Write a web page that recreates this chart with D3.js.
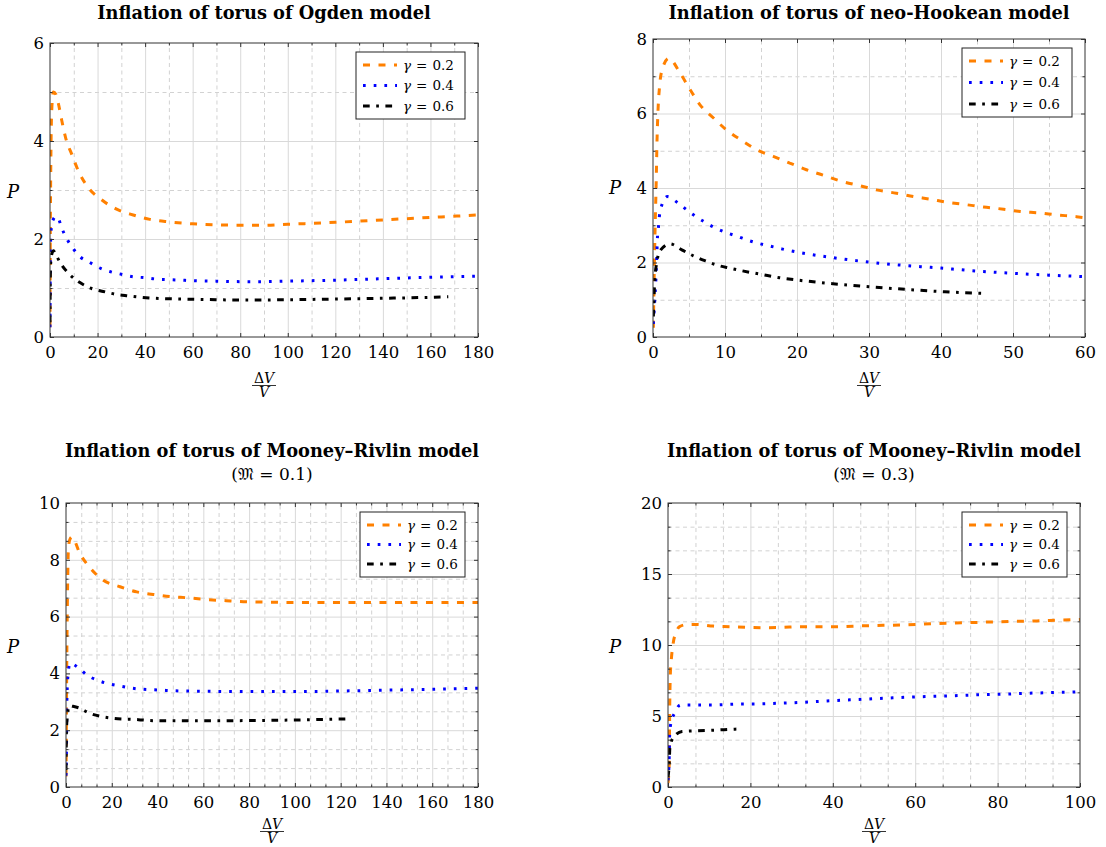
<!DOCTYPE html>
<html>
<head>
<meta charset="utf-8">
<script src="https://cdn.jsdelivr.net/npm/d3@7"></script>
<style>
body { margin: 0; background: #fff; }
svg text { font-family: "DejaVu Serif", serif; fill: #000; }
</style>
</head>
<body>
<svg id="chart" width="1106" height="847"></svg>
<script>
// series names
var gammas = ["0.2", "0.4", "0.6"];

// Ogden model, [dV/V, P]
var ogdenG02 = [[0,0.2],[0.05,1.0],[0.12,2.0],[0.25,3.0],[0.45,4.0],[0.8,4.7],[1.4,5.0],[2.5,4.95],[3.5,4.77],[4.9,4.43],[6.5,4.08],[9.3,3.71],[12.1,3.37],[16.1,3.05],[21.7,2.80],[28,2.61],[35,2.49],[42,2.40],[50,2.35],[60,2.31],[70,2.29],[80,2.28],[90,2.28],[100,2.30],[120,2.34],[140,2.39],[160,2.44],[180,2.49]];
var ogdenG04 = [[0,0.2],[0.05,0.8],[0.12,1.5],[0.25,1.95],[0.5,2.2],[1.2,2.38],[2.5,2.46],[3.5,2.42],[4.9,2.23],[7,2.01],[9.5,1.82],[12.6,1.64],[16.8,1.52],[21.3,1.40],[25.6,1.33],[30,1.28],[35,1.23],[40,1.21],[45,1.18],[50,1.17],[55,1.16],[60,1.15],[70,1.14],[80,1.13],[90,1.13],[100,1.14],[120,1.16],[140,1.19],[160,1.22],[180,1.24]];
var ogdenG06 = [[0,0.3],[0.05,0.8],[0.15,1.3],[0.35,1.55],[0.8,1.7],[1.5,1.76],[2.1,1.71],[4.9,1.47],[8.4,1.27],[12.6,1.11],[17.5,0.99],[22.4,0.93],[28,0.87],[33,0.84],[38.5,0.81],[44,0.79],[50,0.78],[55,0.775],[65,0.765],[80,0.755],[100,0.76],[120,0.775],[140,0.79],[160,0.81],[167.5,0.82]];

// neo-Hookean model
var neoG02 = [[0.05,0.25],[0.15,1.5],[0.3,3.0],[0.45,4.2],[0.55,5.2],[0.7,6.1],[0.9,6.7],[1.2,7.13],[2.2,7.48],[3.75,7.09],[5.1,6.66],[6.5,6.24],[8.4,5.88],[10.2,5.56],[12.3,5.28],[14.4,5.03],[16.7,4.85],[19,4.67],[21.3,4.49],[23.7,4.34],[26,4.19],[28.75,4.06],[31,3.95],[33.8,3.86],[36.2,3.77],[38.5,3.70],[40.8,3.62],[43.6,3.55],[45.9,3.49],[48.7,3.43],[51,3.37],[53.75,3.33],[56,3.28],[58.8,3.23],[60,3.2]];
var neoG04 = [[0.05,0.35],[0.25,1.0],[0.5,2.0],[0.6,2.6],[0.74,2.9],[0.88,3.23],[1.2,3.53],[2.0,3.77],[3.4,3.61],[4.7,3.41],[6,3.23],[7.4,3.06],[8.75,2.92],[10.2,2.80],[11.75,2.70],[13.3,2.59],[14.9,2.50],[16.5,2.43],[18,2.36],[20,2.28],[25,2.13],[30,2.01],[35,1.92],[40,1.85],[45,1.77],[50,1.71],[55,1.66],[60,1.62]];
var neoG06 = [[0.05,0.55],[0.2,1.35],[0.5,1.98],[1.07,2.34],[2.36,2.50],[4,2.34],[5.6,2.18],[7.2,2.05],[8.9,1.93],[10.6,1.85],[12.3,1.78],[14.2,1.71],[15.9,1.65],[17.6,1.59],[20,1.53],[25,1.43],[30,1.35],[35,1.28],[40,1.22],[43,1.19],[46.3,1.17]];

// Mooney-Rivlin model, M = 0.1
var mr1G02 = [[0,0.37],[0.15,1.9],[0.3,4.0],[0.5,5.76],[0.7,7.05],[1.0,8.28],[1.6,8.7],[2.5,8.8],[6.2,8.2],[10.8,7.69],[16.3,7.28],[23.6,7.05],[30.9,6.87],[38.1,6.78],[46.2,6.70],[53.4,6.66],[60,6.61],[70,6.56],[80,6.52],[100,6.50],[120,6.50],[140,6.50],[160,6.50],[180,6.50]];
var mr1G04 = [[0,0.4],[0.2,1.3],[0.35,2.83],[0.6,3.6],[0.9,3.95],[1.75,4.36],[5.4,4.2],[9,3.95],[13.4,3.77],[17.8,3.65],[22.6,3.57],[27.2,3.50],[32,3.45],[36.7,3.43],[41.8,3.41],[46.6,3.39],[51.2,3.38],[60,3.37],[80,3.36],[100,3.36],[120,3.38],[140,3.41],[160,3.44],[180,3.48]];
var mr1G06 = [[0,0.6],[0.2,2.0],[0.5,2.42],[1.45,2.86],[3,2.84],[5.8,2.78],[10.2,2.60],[15.6,2.48],[20.7,2.42],[26.2,2.39],[31.6,2.37],[36.7,2.34],[42.5,2.33],[50,2.33],[60,2.33],[80,2.34],[100,2.36],[123.3,2.40]];

// Mooney-Rivlin model, M = 0.3
var mr3G02 = [[0,0.28],[0.3,1.7],[0.4,5.2],[0.55,7.78],[0.8,8.95],[1.3,10.2],[2,10.9],[2.8,11.3],[5,11.45],[7,11.45],[11,11.33],[15.1,11.29],[19.2,11.24],[23.6,11.22],[27.6,11.24],[32.1,11.29],[40.2,11.29],[48.3,11.36],[56.3,11.41],[64.4,11.5],[72.5,11.57],[80.6,11.64],[88.7,11.69],[100,11.8]];
var mr3G04 = [[0,0.47],[0.3,2.15],[0.4,3.68],[0.7,4.5],[1.6,5.2],[3,5.78],[6.2,5.78],[11,5.78],[15.9,5.83],[21.6,5.85],[27.2,5.90],[32.9,5.97],[38.6,6.06],[44.2,6.14],[50.7,6.23],[56.3,6.30],[62.8,6.37],[68.5,6.42],[74.9,6.49],[80.6,6.53],[87.1,6.60],[93.5,6.65],[100,6.70]];
var mr3G06 = [[0,0.7],[0.3,1.7],[0.45,2.74],[1.2,3.44],[3.4,3.91],[7,3.96],[11,4.0],[15.9,4.07],[16.7,4.08]];

// tick values
var ogdenXTicks = [0,20,40,60,80,100,120,140,160,180];
var ogdenYTicks = [0,2,4,6];
var neoXTicks = [0,10,20,30,40,50,60];
var neoYTicks = [0,2,4,6,8];
var mr1XTicks = [0,20,40,60,80,100,120,140,160,180];
var mr1YTicks = [0,2,4,6,8,10];
var mr3XTicks = [0,20,40,60,80,100];
var mr3YTicks = [0,5,10,15,20];

var styles = [
  {color: "#ff8000", dash: "7,8.5"},
  {color: "#0000ff", dash: "2.7,8"},
  {color: "#000000", dash: "6.7,6.5,2.7,6.5"}
];

var panels = [
  {title: ["Inflation of torus of Ogden model"], titleY: 19, series: [ogdenG02, ogdenG04, ogdenG06],
   xTicks: ogdenXTicks, yTicks: ogdenYTicks, minor: 1, fracY: 46,
   left: 50, right: 478, top: 43, bottom: 337, legend: [356, 52, 109, 67], pLabel: [13, 192]},
  {title: ["Inflation of torus of neo-Hookean model"], titleY: 19, series: [neoG02, neoG04, neoG06],
   xTicks: neoXTicks, yTicks: neoYTicks, minor: 1, fracY: 46,
   left: 653, right: 1085, top: 39, bottom: 337, legend: [962, 48, 110, 69], pLabel: [615, 188]},
  {title: ["Inflation of torus of Mooney\u2013Rivlin model", "(\uD835\uDD10 = 0.1)"], titleY: 457, series: [mr1G02, mr1G04, mr1G06],
   xTicks: mr1XTicks, yTicks: mr1YTicks, minor: 2, fracY: 42,
   left: 66, right: 478, top: 503, bottom: 787, legend: [360, 512, 105, 65], pLabel: [13, 647]},
  {title: ["Inflation of torus of Mooney\u2013Rivlin model", "(\uD835\uDD10 = 0.3)"], titleY: 457, series: [mr3G02, mr3G04, mr3G06],
   xTicks: mr3XTicks, yTicks: mr3YTicks, minor: 2, fracY: 42,
   left: 668, right: 1080, top: 503, bottom: 787, legend: [962, 512, 105, 65], pLabel: [615, 647]}
];

var svg = d3.select("#chart");

function minors(ticks, n) {
  var out = [];
  for (var i = 0; i < ticks.length - 1; i++) {
    var step = (ticks[i + 1] - ticks[i]) / (n + 1);
    for (var k = 1; k <= n; k++) out.push(ticks[i] + k * step);
  }
  return out;
}

function styleAxis(sel) {
  sel.select(".domain").remove();
  sel.attr("font-family", null).attr("font-size", 16.5);
}

function drawPanel(p, idx) {
  var g = svg.append("g");
  var xMax = p.xTicks[p.xTicks.length - 1], yMax = p.yTicks[p.yTicks.length - 1];
  var x = d3.scaleLinear().domain([0, xMax]).range([p.left, p.right]);
  var y = d3.scaleLinear().domain([0, yMax]).range([p.bottom, p.top]);
  var w = p.right - p.left, h = p.bottom - p.top;
  var mx = minors(p.xTicks, p.minor), my = minors(p.yTicks, p.minor);
  var inner = function(v, max) { return v > 0 && v < max; };

  // grid
  g.append("g").attr("transform", "translate(0," + p.bottom + ")")
    .call(d3.axisBottom(x).tickValues(mx).tickSize(-h).tickFormat(""))
    .call(styleAxis)
    .selectAll("line").attr("stroke", "#d2d2d2").attr("stroke-dasharray", "4,3.5");
  g.append("g").attr("transform", "translate(" + p.left + ",0)")
    .call(d3.axisLeft(y).tickValues(my).tickSize(-w).tickFormat(""))
    .call(styleAxis)
    .selectAll("line").attr("stroke", "#d2d2d2").attr("stroke-dasharray", "4,3.5");
  g.append("g").attr("transform", "translate(0," + p.bottom + ")")
    .call(d3.axisBottom(x).tickValues(p.xTicks.filter(function(v) { return inner(v, xMax); })).tickSize(-h).tickFormat(""))
    .call(styleAxis)
    .selectAll("line").attr("stroke", "#d9d9d9");
  g.append("g").attr("transform", "translate(" + p.left + ",0)")
    .call(d3.axisLeft(y).tickValues(p.yTicks.filter(function(v) { return inner(v, yMax); })).tickSize(-w).tickFormat(""))
    .call(styleAxis)
    .selectAll("line").attr("stroke", "#d9d9d9");

  // curves
  var clipId = "clip" + idx;
  g.append("clipPath").attr("id", clipId).append("rect")
    .attr("x", p.left).attr("y", p.top).attr("width", w).attr("height", h);
  var line = d3.line().x(function(d) { return x(d[0]); }).y(function(d) { return y(d[1]); })
    .curve(d3.curveMonotoneX);
  g.append("g").attr("clip-path", "url(#" + clipId + ")")
    .selectAll("path").data(p.series).join("path")
    .attr("d", line)
    .attr("fill", "none")
    .attr("stroke", function(d, i) { return styles[i].color; })
    .attr("stroke-width", 3)
    .attr("stroke-dasharray", function(d, i) { return styles[i].dash; });

  // frame
  g.append("rect").attr("x", p.left).attr("y", p.top).attr("width", w).attr("height", h)
    .attr("fill", "none").attr("stroke", "#333").attr("stroke-width", 1);

  // ticks on all sides
  var tickCol = "#333";
  g.append("g").attr("transform", "translate(0," + p.bottom + ")")
    .call(d3.axisBottom(x).tickValues(p.xTicks).tickSize(-4).tickPadding(9).tickFormat(d3.format("d")))
    .call(styleAxis)
    .call(function(s) { s.selectAll("line").attr("stroke", tickCol); s.selectAll("text").attr("fill", "#111"); });
  g.append("g").attr("transform", "translate(" + p.left + ",0)")
    .call(d3.axisLeft(y).tickValues(p.yTicks).tickSize(-4).tickPadding(6).tickFormat(d3.format("d")))
    .call(styleAxis)
    .call(function(s) { s.selectAll("line").attr("stroke", tickCol); s.selectAll("text").attr("fill", "#111"); });
  g.append("g").attr("transform", "translate(0," + p.top + ")")
    .call(d3.axisTop(x).tickValues(p.xTicks).tickSize(-4).tickFormat(""))
    .call(styleAxis).selectAll("line").attr("stroke", tickCol);
  g.append("g").attr("transform", "translate(" + p.right + ",0)")
    .call(d3.axisRight(y).tickValues(p.yTicks).tickSize(-4).tickFormat(""))
    .call(styleAxis).selectAll("line").attr("stroke", tickCol);
  [[d3.axisBottom(x).tickValues(mx), "translate(0," + p.bottom + ")"],
   [d3.axisTop(x).tickValues(mx), "translate(0," + p.top + ")"],
   [d3.axisLeft(y).tickValues(my), "translate(" + p.left + ",0)"],
   [d3.axisRight(y).tickValues(my), "translate(" + p.right + ",0)"]].forEach(function(a) {
    g.append("g").attr("transform", a[1])
      .call(a[0].tickSize(-2.5).tickFormat(""))
      .call(styleAxis).selectAll("line").attr("stroke", tickCol);
  });

  // titles
  var cx = (p.left + p.right) / 2;
  g.append("text").attr("x", cx).attr("y", p.titleY)
    .attr("text-anchor", "middle").attr("font-weight", "bold").attr("font-size", 17.8)
    .text(p.title[0]);
  if (p.title.length > 1) {
    g.append("text").attr("x", cx).attr("y", p.titleY + 23)
      .attr("text-anchor", "middle").attr("font-size", 17)
      .text(p.title[1]);
  }

  // axis labels
  g.append("text").attr("x", p.pLabel[0]).attr("y", p.pLabel[1] + 6)
    .attr("text-anchor", "middle").attr("font-style", "italic").attr("font-size", 18).text("P");
  var xl = g.append("g").attr("transform", "translate(" + cx + "," + p.bottom + ")");
  xl.append("text").attr("y", p.fracY).attr("text-anchor", "middle").attr("font-size", 14)
    .call(function(t) {
      t.append("tspan").text("\u0394");
      t.append("tspan").attr("font-style", "italic").text("V");
    });
  xl.append("line").attr("x1", -12).attr("x2", 12).attr("y1", p.fracY + 2.5).attr("y2", p.fracY + 2.5)
    .attr("stroke", "#000").attr("stroke-width", 0.8);
  xl.append("text").attr("y", p.fracY + 13.5).attr("text-anchor", "middle").attr("font-size", 14)
    .attr("font-style", "italic").text("V");

  // legend
  var lg = g.append("g").attr("transform", "translate(" + p.legend[0] + "," + p.legend[1] + ")");
  lg.append("rect").attr("width", p.legend[2]).attr("height", p.legend[3])
    .attr("fill", "#fff").attr("stroke", "#222").attr("stroke-width", 1);
  var rowH = (p.legend[3] - 26) / 2;
  gammas.forEach(function(gm, i) {
    var ry = 13 + i * rowH;
    lg.append("line").attr("x1", 7).attr("x2", 41).attr("y1", ry).attr("y2", ry)
      .attr("stroke", styles[i].color).attr("stroke-width", 3)
      .attr("stroke-dasharray", styles[i].dash);
    var t = lg.append("text").attr("x", 47).attr("y", ry + 4.5).attr("font-size", 13.5);
    t.append("tspan").attr("font-style", "italic").text("\u03B3");
    t.append("tspan").attr("dx", 5).text("=");
    t.append("tspan").attr("dx", 5).text(gm);
  });
}

panels.forEach(drawPanel);
</script>
</body>
</html>
